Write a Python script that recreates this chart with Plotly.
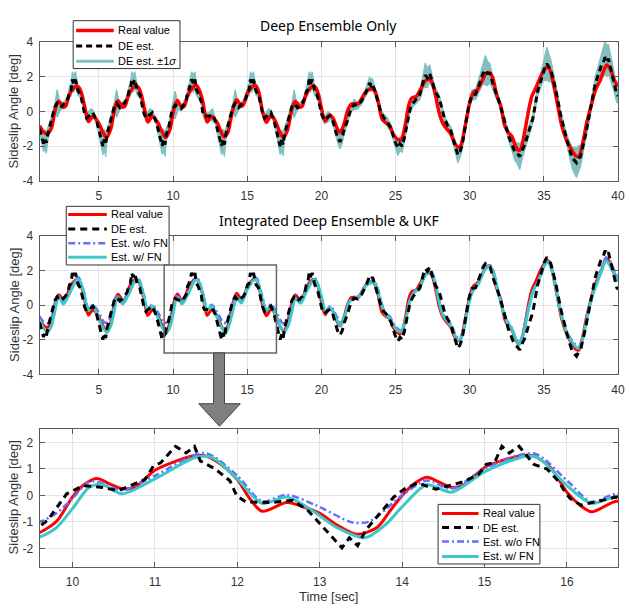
import plotly.graph_objects as go

W, H = 629, 613

# ---------------- data ----------------
# Real sideslip angle [deg] (knots, drawn as a smooth curve)
real_t = [1.0, 1.25, 1.5, 1.8, 2.0, 2.15, 2.3, 2.45, 2.6, 2.75, 3.0, 3.2, 3.45, 3.65, 3.85, 4.0, 4.15, 4.3, 4.6, 4.8, 5.0, 5.25, 5.5,
          5.8, 6.0, 6.15, 6.3, 6.45, 6.6, 6.75, 7.0, 7.2, 7.45, 7.65, 7.85, 8.0, 8.15, 8.3, 8.6, 8.8, 9.0, 9.25, 9.5,
          9.8, 10.0, 10.15, 10.3, 10.45, 10.6, 10.75, 11.0, 11.2, 11.45, 11.6, 11.8, 12.0, 12.15, 12.3, 12.6, 12.8, 13.0, 13.2, 13.45,
          13.7, 13.85, 14.0, 14.15, 14.3, 14.45, 14.6, 14.75, 15.0, 15.2, 15.45, 15.6, 15.8, 16.0, 16.15, 16.3, 16.6, 16.8, 17.0, 17.2, 17.45,
          17.7, 17.95, 18.1, 18.25, 18.4, 18.55, 18.7, 18.95, 19.15, 19.45, 19.6, 19.8, 20.0, 20.25, 20.55, 20.8, 21.0, 21.25,
          21.5, 21.75, 22.0, 22.25, 22.5, 22.75, 23.0, 23.4, 23.6, 23.85, 24.1, 24.4, 24.6, 24.85, 25.2, 25.4,
          25.65, 25.9, 26.1, 26.4, 26.7, 27.0, 27.2, 27.45, 27.7, 27.95, 28.2, 28.45, 28.7, 29.0, 29.25, 29.4,
          29.7, 30.0, 30.25, 30.5, 30.8, 31.1, 31.3, 31.55, 31.8, 32.1, 32.35, 32.6, 32.85, 33.1, 33.3, 33.45,
          33.7, 34.0, 34.2, 34.45, 34.8, 35.15, 35.35, 35.6, 35.9, 36.2, 36.5, 36.8, 37.15, 37.35, 37.6,
          37.9, 38.2, 38.5, 38.8, 39.05, 39.25, 39.5, 39.75, 40.0]
real_val = [-0.82, -1.15, -1.3, -0.95, -0.1, 0.43, 0.6, 0.45, 0.25, 0.3, 0.95, 1.25, 1.45, 1.4, 1.0, 0.45, -0.15, -0.58, -0.27, -0.43, -0.68, -1.15, -1.5,
            -1.0, -0.1, 0.43, 0.62, 0.45, 0.25, 0.3, 0.95, 1.25, 1.48, 1.4, 1.0, 0.45, -0.15, -0.6, -0.27, -0.43, -0.68, -1.15, -1.5,
            -1.0, -0.06, 0.43, 0.64, 0.43, 0.25, 0.3, 0.95, 1.23, 1.48, 1.5, 1.17, 0.6, -0.12, -0.6, -0.27, -0.43, -0.68, -1.1, -1.47,
            -1.2, -0.6, 0.0, 0.45, 0.68, 0.5, 0.3, 0.4, 1.05, 1.3, 1.5, 1.48, 1.05, 0.12, -0.35, -0.62, -0.22, -0.4, -0.75, -1.2, -1.5,
            -1.1, -0.1, 0.4, 0.58, 0.45, 0.25, 0.3, 0.95, 1.25, 1.47, 1.4, 1.0, 0.2, -0.55, -0.2, -0.4, -0.85, -1.2,
            -0.8, 0.0, 0.42, 0.45, 0.45, 0.8, 1.15, 1.32, 1.2, 0.5, -0.45, -0.68, -0.8, -1.3, -1.63, -1.6,
            -0.8, 0.4, 0.78, 0.88, 1.3, 1.75, 1.88, 1.7, 0.9, -0.1, -0.7, -1.0, -1.25, -1.85, -2.05, -1.95,
            -0.8, 0.5, 1.1, 1.25, 1.7, 2.2, 2.25, 1.95, 1.0, 0.3, -0.8, -1.2, -1.45, -2.0, -2.25, -2.15,
            -1.2, 0.2, 0.9, 1.35, 2.05, 2.55, 2.5, 1.8, 0.5, -0.8, -1.6, -2.1, -2.55, -2.6, -1.9,
            -0.6, 0.4, 1.3, 1.8, 2.4, 2.68, 2.4, 1.8, 1.45]

# Deep Ensemble estimate and its standard deviation [deg]
de_t = [1.0, 1.1, 1.27, 1.36, 1.46, 1.56, 1.73, 1.9, 2.03, 2.19, 2.41, 2.75, 2.93, 3.02, 3.12, 3.21, 3.3, 3.42, 3.5, 3.6, 3.76, 3.9, 3.98, 4.04, 4.17, 4.44, 4.6, 4.85, 4.98,
        5.1, 5.27, 5.36, 5.46, 5.56, 5.73, 5.9, 6.03, 6.19, 6.41, 6.75, 6.93, 7.02, 7.12, 7.21, 7.3, 7.42, 7.5, 7.6, 7.76, 7.9, 7.98, 8.04, 8.17, 8.44, 8.6, 8.85, 8.98,
        9.1, 9.27, 9.36, 9.46, 9.55, 9.7, 9.93, 10.13, 10.36, 10.55, 10.75, 10.88, 10.98, 11.07, 11.25, 11.38, 11.48, 11.55, 11.73, 11.91, 11.99, 12.1, 12.4, 12.67, 12.85, 12.98,
        13.09, 13.27, 13.36, 13.46, 13.56, 13.73, 13.9, 14.03, 14.19, 14.41, 14.75, 14.93, 15.02, 15.12, 15.21, 15.3, 15.42, 15.5, 15.6, 15.76, 15.9, 15.98, 16.04, 16.17, 16.44, 16.6, 16.8, 16.95,
        17.05, 17.22, 17.32, 17.42, 17.52, 17.7, 17.87, 18.0, 18.16, 18.38, 18.72, 18.9, 18.98, 19.08, 19.17, 19.26, 19.38, 19.46, 19.56, 19.72, 19.86, 19.95, 20.03, 20.2, 20.45, 20.6, 20.8, 20.95,
        21.1, 21.25, 21.4, 21.55, 21.75, 22.0, 22.2, 22.45, 22.7, 22.95, 23.1, 23.25, 23.35, 23.45, 23.6, 23.8, 24.0, 24.2, 24.45, 24.7, 24.95, 25.15, 25.3, 25.45, 25.6,
        25.8, 26.0, 26.2, 26.45, 26.65, 26.85, 27.0, 27.15, 27.3, 27.45, 27.65, 27.95, 28.15, 28.3, 28.5, 28.75, 28.95, 29.1, 29.2, 29.35, 29.5,
        29.75, 29.95, 30.15, 30.4, 30.7, 30.9, 31.05, 31.2, 31.37, 31.6, 31.9, 32.26, 32.6, 32.85, 33.03, 33.2, 33.37, 33.55, 33.7,
        34.0, 34.25, 34.58, 34.92, 35.05, 35.2, 35.35, 35.47, 35.8, 36.14, 36.58, 36.91, 37.05, 37.2, 37.35, 37.47, 37.8,
        38.13, 38.47, 38.84, 39.0, 39.13, 39.25, 39.35, 39.55, 39.69, 39.91, 40.0]
de_val = [-1.0, -1.38, -1.85, -1.6, -1.8, -1.3, -0.68, -0.06, 0.25, 0.47, 0.23, 0.52, 0.8, 1.17, 1.23, 1.85, 1.6, 1.85, 1.54, 1.17, 0.99, 0.52, 0.12, -0.12, -0.37, -0.19, -0.06, -0.55, -1.0,
          -1.38, -2.0, -1.6, -1.9, -1.3, -0.68, -0.06, 0.25, 0.47, 0.23, 0.52, 0.8, 1.17, 1.23, 1.85, 1.6, 1.85, 1.54, 1.17, 0.99, 0.52, 0.12, -0.12, -0.37, -0.19, -0.06, -0.55, -1.0,
          -1.38, -1.98, -1.6, -1.9, -1.3, -0.93, 0.06, 0.37, 0.3, 0.18, 0.43, 0.6, 1.1, 1.23, 1.85, 1.6, 1.85, 1.3, 1.0, 0.55, 0.0, -0.25, -0.27, -0.19, -0.55, -1.0,
          -1.38, -1.98, -1.6, -1.9, -1.3, -0.68, -0.06, 0.25, 0.47, 0.23, 0.52, 0.8, 1.17, 1.23, 1.85, 1.6, 1.85, 1.54, 1.17, 0.99, 0.52, 0.12, -0.12, -0.37, -0.19, -0.06, -0.5, -1.0,
          -1.4, -2.0, -1.65, -1.9, -1.3, -0.65, -0.05, 0.25, 0.45, 0.22, 0.5, 0.8, 1.15, 1.25, 1.85, 1.6, 1.85, 1.5, 1.15, 0.95, 0.5, 0.1, -0.2, -0.5, -0.3, -0.25, -0.6, -1.1,
          -1.5, -1.75, -1.5, -1.0, -0.55, 0.15, 0.4, 0.35, 0.6, 1.0, 1.3, 1.65, 1.5, 1.6, 1.2, 0.6, 0.0, -0.35, -0.6, -1.0, -1.7, -2.1, -1.85, -2.0, -1.5,
          -0.6, 0.2, 0.5, 0.8, 1.0, 1.7, 2.1, 1.95, 2.2, 1.8, 1.2, 0.75, 0.0, -0.4, -0.8, -1.15, -1.8, -2.3, -2.5, -2.3, -1.9,
          -0.6, 0.4, 0.95, 1.0, 1.7, 2.2, 2.38, 2.2, 2.2, 1.5, 0.79, -0.24, -1.37, -1.9, -2.31, -2.4, -2.59, -2.2, -1.94,
          -1.1, -0.43, 1.17, 2.2, 2.5, 2.76, 2.5, 2.38, 1.26, -0.24, -1.74, -2.69, -2.8, -2.95, -2.7, -2.59, -1.37,
          0.04, 1.63, 2.57, 2.8, 3.14, 2.9, 3.04, 2.4, 1.82, 1.0, 0.9]
de_sd = [0.2, 0.3, 0.45, 0.55, 0.6, 0.35, 0.2, 0.15, 0.2, 0.8, 0.15, 0.15, 0.2, 0.3, 0.35, 0.45, 0.5, 0.45, 0.35, 0.25, 0.15, 0.15, 0.12, 0.12, 0.2, 0.35, 0.15, 0.15, 0.2,
         0.3, 0.5, 0.6, 0.7, 0.35, 0.2, 0.15, 0.2, 0.8, 0.15, 0.15, 0.2, 0.3, 0.35, 0.45, 0.5, 0.45, 0.35, 0.25, 0.15, 0.15, 0.12, 0.12, 0.2, 0.35, 0.15, 0.15, 0.2,
         0.3, 0.5, 0.6, 0.7, 0.35, 0.2, 0.15, 0.8, 0.15, 0.15, 0.2, 0.2, 0.3, 0.35, 0.45, 0.5, 0.45, 0.35, 0.25, 0.15, 0.12, 0.15, 0.2, 0.35, 0.15, 0.2,
         0.3, 0.5, 0.6, 0.7, 0.35, 0.2, 0.15, 0.2, 0.8, 0.15, 0.15, 0.2, 0.3, 0.35, 0.45, 0.5, 0.45, 0.35, 0.25, 0.15, 0.15, 0.12, 0.12, 0.2, 0.35, 0.15, 0.15, 0.2,
         0.3, 0.5, 0.6, 0.65, 0.35, 0.2, 0.15, 0.2, 0.8, 0.15, 0.15, 0.2, 0.3, 0.35, 0.45, 0.5, 0.45, 0.35, 0.25, 0.15, 0.15, 0.12, 0.12, 0.2, 0.3, 0.15, 0.2, 0.25,
         0.3, 0.4, 0.35, 0.25, 0.2, 0.15, 0.3, 0.2, 0.2, 0.2, 0.25, 0.35, 0.35, 0.3, 0.25, 0.2, 0.15, 0.2, 0.25, 0.2, 0.25, 0.45, 0.4, 0.35, 0.25,
         0.25, 0.2, 0.2, 0.25, 0.3, 0.4, 0.7, 0.55, 0.5, 0.35, 0.25, 0.2, 0.2, 0.2, 0.2, 0.25, 0.3, 0.4, 0.45, 0.35, 0.3,
         0.25, 0.25, 0.3, 0.3, 0.45, 0.6, 0.85, 0.7, 0.55, 0.35, 0.25, 0.2, 0.25, 0.35, 0.5, 0.6, 0.75, 0.5, 0.35,
         0.3, 0.25, 0.3, 0.5, 0.7, 0.95, 0.8, 0.6, 0.35, 0.25, 0.35, 0.6, 0.75, 0.85, 0.75, 0.6, 0.35,
         0.3, 0.4, 0.6, 0.8, 0.95, 0.9, 0.85, 0.7, 0.55, 0.45, 0.4]

# UKF estimate without feedback network [deg]
nofn_t = [1.0, 1.25, 1.55, 1.8, 2.0, 2.2, 2.35, 2.6, 3.0, 3.6, 4.0, 4.3, 4.6, 4.95, 5.4, 5.6,
          5.8, 6.0, 6.2, 6.35, 6.6, 7.0, 7.6, 8.0, 8.3, 8.6, 8.95, 9.4, 9.6,
          9.8, 10.0, 10.2, 10.35, 10.6, 11.0, 11.6, 12.0, 12.3, 12.6, 12.95, 13.4, 13.6,
          14.0, 14.3, 14.6, 15.0, 15.6, 16.0, 16.3, 16.6, 16.95, 17.4, 17.6,
          18.0, 18.3, 18.6, 19.0, 19.55, 20.0, 20.3, 20.6, 21.0, 21.3,
          21.6, 21.9, 22.3, 22.6, 23.0, 23.45, 23.7, 24.0, 24.3, 24.6, 25.0, 25.35,
          25.7, 26.0, 26.3, 26.6, 27.0, 27.35, 27.6, 27.9, 28.2, 28.5, 28.8, 29.1, 29.35,
          29.6, 30.0, 30.3, 30.6, 31.0, 31.35, 31.6, 31.9, 32.2, 32.5, 32.8, 33.1, 33.35,
          33.6, 34.0, 34.3, 34.6, 35.0, 35.25, 35.5, 35.8, 36.1, 36.5, 36.9, 37.35,
          37.6, 38.0, 38.3, 38.6, 38.9, 39.2, 39.5, 39.8, 40.0]
nofn_val = [-0.66, -0.95, -1.05, -0.7, -0.12, 0.52, 0.47, 0.19, 0.74, 1.6, 0.74, -0.22, 0.02, -0.37, -1.02, -0.99,
            -0.68, -0.12, 0.52, 0.47, 0.19, 0.8, 1.6, 0.7, -0.22, 0.02, -0.37, -1.02, -1.0,
            -0.68, -0.12, 0.52, 0.47, 0.19, 0.74, 1.6, 0.74, -0.22, 0.02, -0.37, -1.02, -0.99,
            0.0, 0.56, 0.25, 1.01, 1.58, 0.56, -0.25, 0.06, -0.4, -1.05, -1.0,
            0.0, 0.5, 0.25, 0.95, 1.55, 0.5, -0.35, -0.05, -0.6, -1.0,
            -0.5, 0.25, 0.45, 0.6, 1.15, 1.38, 1.2, 0.3, -0.45, -0.65, -1.25, -1.45,
            -0.7, 0.4, 0.8, 1.0, 1.75, 1.95, 1.6, 0.4, -0.5, -0.85, -1.2, -1.8, -1.9,
            -1.3, 0.35, 1.0, 1.3, 2.05, 2.3, 1.95, 0.85, -0.15, -0.9, -1.25, -1.9, -2.15,
            -1.6, 0.0, 0.9, 1.35, 2.3, 2.6, 2.25, 1.1, -0.2, -1.4, -2.05, -2.4,
            -1.9, -0.3, 0.7, 1.4, 2.15, 2.75, 2.45, 1.9, 1.55]

# UKF estimate with feedback network [deg]
fn_t = [1.0, 1.25, 1.55, 1.8, 2.0, 2.2, 2.35, 2.6, 3.0, 3.5, 3.7, 4.0, 4.3, 4.6, 4.9, 5.2, 5.55,
        5.8, 6.0, 6.2, 6.35, 6.6, 7.0, 7.5, 7.7, 8.0, 8.3, 8.6, 8.9, 9.2, 9.55,
        9.8, 10.0, 10.2, 10.35, 10.6, 11.0, 11.5, 11.7, 12.0, 12.3, 12.6, 12.9, 13.2, 13.55,
        13.8, 14.0, 14.3, 14.6, 15.0, 15.5, 15.65, 16.0, 16.3, 16.6, 16.9, 17.2, 17.5,
        17.8, 18.0, 18.25, 18.6, 19.0, 19.5, 19.65, 20.0, 20.3, 20.6, 20.9, 21.3,
        21.6, 21.9, 22.3, 22.6, 23.0, 23.45, 23.65, 24.0, 24.3, 24.6, 25.0, 25.35,
        25.7, 26.0, 26.3, 26.6, 27.0, 27.35, 27.6, 27.9, 28.2, 28.5, 28.8, 29.1, 29.35,
        29.6, 30.0, 30.3, 30.6, 31.0, 31.35, 31.6, 31.9, 32.2, 32.5, 32.8, 33.1, 33.35,
        33.6, 34.0, 34.3, 34.6, 35.0, 35.25, 35.5, 35.8, 36.1, 36.5, 36.9, 37.35,
        37.6, 38.0, 38.3, 38.6, 38.9, 39.2, 39.5, 39.8, 40.0]
fn_val = [-0.85, -1.3, -1.55, -1.2, -0.5, 0.3, 0.42, 0.06, 0.62, 1.44, 1.42, 0.62, -0.3, -0.06, -0.55, -1.2, -1.58,
          -1.2, -0.5, 0.3, 0.42, 0.06, 0.62, 1.44, 1.42, 0.62, -0.3, -0.06, -0.55, -1.2, -1.6,
          -1.23, -0.5, 0.3, 0.42, 0.06, 0.62, 1.44, 1.42, 0.62, -0.3, -0.06, -0.55, -1.2, -1.6,
          -1.1, -0.43, 0.4, 0.12, 0.89, 1.48, 1.42, 0.37, -0.3, -0.06, -0.55, -1.2, -1.55,
          -1.1, -0.4, 0.35, 0.1, 0.8, 1.45, 1.4, 0.5, -0.45, -0.15, -0.6, -1.2,
          -0.6, 0.2, 0.4, 0.55, 1.1, 1.3, 1.2, 0.2, -0.55, -0.75, -1.35, -1.55,
          -0.8, 0.35, 0.75, 0.95, 1.7, 1.9, 1.5, 0.3, -0.6, -0.95, -1.3, -1.9, -2.03,
          -1.4, 0.3, 0.95, 1.25, 2.0, 2.23, 1.9, 0.8, -0.2, -0.95, -1.3, -1.95, -2.27,
          -1.7, -0.1, 0.85, 1.3, 2.2, 2.48, 2.15, 1.0, -0.3, -1.5, -2.15, -2.5,
          -2.0, -0.4, 0.6, 1.3, 2.0, 2.55, 2.2, 1.7, 1.35]

y_ticks = [-4, -2, 0, 2, 4]
y_tick_text = ["-4", "-2", "0", "2", "4"]
x_ticks = [5, 10, 15, 20, 25, 30, 35, 40]
zoom_x_ticks = [10, 11, 12, 13, 14, 15, 16]
zoom_y_ticks = [-2, -1, 0, 1, 2]
zoom_y_tick_text = ["-2", "-1", "0", "1", "2"]

# ---------------- styling ----------------
RED = "#ff0000"
BLACK = "#000000"
TEAL = "rgb(128,192,192)"
BLUE = "rgb(100,110,255)"
CYAN = "rgb(60,200,200)"
AX = "#5a5a5a"
GRID = "#e4e4e4"
TXT = "#333333"
FONT = "Liberation Sans, Arial, sans-serif"


def px(x):
    return x / W


def py(y):
    return 1 - y / H


fig = go.Figure()

# ---- top panel: Deep Ensemble only ----
band_lo = [v - s for v, s in zip(de_val, de_sd)]
band_hi = [v + s for v, s in zip(de_val, de_sd)]
fig.add_trace(go.Scatter(x=de_t, y=band_lo, mode="lines", line=dict(color=TEAL, width=1.2),
                         xaxis="x", yaxis="y", showlegend=False, hoverinfo="skip"))
fig.add_trace(go.Scatter(x=de_t, y=band_hi, mode="lines", line=dict(color=TEAL, width=1.2),
                         fill="tonexty", fillcolor=TEAL, xaxis="x", yaxis="y", showlegend=False))
fig.add_trace(go.Scatter(x=real_t, y=real_val, mode="lines",
                         line=dict(color=RED, width=3.5, shape="spline", smoothing=0.8),
                         xaxis="x", yaxis="y", showlegend=False))
fig.add_trace(go.Scatter(x=de_t, y=de_val, mode="lines",
                         line=dict(color=BLACK, width=3, dash="6px,4px"),
                         xaxis="x", yaxis="y", showlegend=False))

# ---- middle and bottom panels: integrated DE & UKF ----
for xa, ya in (("x2", "y2"), ("x3", "y3")):
    fig.add_trace(go.Scatter(x=real_t, y=real_val, mode="lines",
                             line=dict(color=RED, width=3, shape="spline", smoothing=0.8),
                             xaxis=xa, yaxis=ya, showlegend=False))
    fig.add_trace(go.Scatter(x=nofn_t, y=nofn_val, mode="lines",
                             line=dict(color=BLUE, width=2.5, shape="spline", smoothing=0.8,
                                       dash="7px,3px,2px,3px"),
                             xaxis=xa, yaxis=ya, showlegend=False))
    fig.add_trace(go.Scatter(x=fn_t, y=fn_val, mode="lines",
                             line=dict(color=CYAN, width=3, shape="spline", smoothing=0.8),
                             xaxis=xa, yaxis=ya, showlegend=False))
    fig.add_trace(go.Scatter(x=de_t, y=de_val, mode="lines",
                             line=dict(color=BLACK, width=3, dash="7px,5px"),
                             xaxis=xa, yaxis=ya, showlegend=False))


def axis(**kw):
    d = dict(showline=True, linecolor=AX, linewidth=1, mirror="ticks", ticks="inside",
             ticklen=5, tickcolor=AX, showgrid=True, gridcolor=GRID, gridwidth=1,
             zeroline=False, tickfont=dict(family=FONT, size=12, color=TXT), fixedrange=True,
             ticklabeloverflow="allow")
    d.update(kw)
    return d


XD = [px(40), px(625)]
layout = dict(
    width=W, height=H, margin=dict(l=0, r=0, t=0, b=0),
    paper_bgcolor="white", plot_bgcolor="white", showlegend=False,
    xaxis=axis(domain=XD, range=[1, 40], tickvals=x_ticks, anchor="y", ticklabelstandoff=4),
    yaxis=axis(domain=[py(178), py(36)], range=[-4, 4], tickvals=y_ticks, ticktext=y_tick_text,
               anchor="x", ticklabelstandoff=3),
    xaxis2=axis(domain=XD, range=[1, 40], tickvals=x_ticks, anchor="y2", ticklabelstandoff=4),
    yaxis2=axis(domain=[py(376), py(234)], range=[-4, 4], tickvals=y_ticks, ticktext=y_tick_text,
                anchor="x2", ticklabelstandoff=3),
    xaxis3=axis(domain=XD, range=[9.6, 16.62], tickvals=zoom_x_ticks, anchor="y3", ticklabelstandoff=4),
    yaxis3=axis(domain=[py(573), py(432)], range=[-2.7, 2.5], tickvals=zoom_y_ticks,
                ticktext=zoom_y_tick_text, anchor="x3", ticklabelstandoff=3),
)
fig.update_layout(**layout)

shapes = []
annotations = []

# titles and axis labels
annotations.append(dict(text="Deep Ensemble Only", x=px(332.5), y=py(19), xref="paper", yref="paper",
                        showarrow=False, xanchor="center", yanchor="middle",
                        font=dict(family="Noto Sans, sans-serif", size=14, color="black")))
annotations.append(dict(text="Integrated Deep Ensemble &amp; UKF", x=px(332.5), y=py(219), xref="paper",
                        yref="paper", showarrow=False, xanchor="center", yanchor="middle",
                        font=dict(family="Noto Sans, sans-serif", size=14, color="black")))
for yc in (107, 305, 502):
    annotations.append(dict(text="Sideslip Angle [deg]", x=px(14), y=py(yc), xref="paper", yref="paper",
                            showarrow=False, textangle=-90, xanchor="center", yanchor="middle",
                            font=dict(family=FONT, size=13, color=TXT)))
annotations.append(dict(text="Time [sec]", x=px(332), y=py(603), xref="paper", yref="paper",
                        showarrow=False, xanchor="center", yanchor="middle",
                        font=dict(family=FONT, size=13, color=TXT)))


def legend(box, rows, lx0, lx1, tx):
    x0, y0, x1, y1 = box
    shapes.append(dict(type="rect", xref="paper", yref="paper", x0=px(x0), x1=px(x1), y0=py(y1), y1=py(y0),
                       line=dict(color="#333333", width=1), fillcolor="white", layer="above"))
    for yr, label, color, width, dash in rows:
        shapes.append(dict(type="line", xref="paper", yref="paper", x0=px(lx0), x1=px(lx1), y0=py(yr), y1=py(yr),
                           line=dict(color=color, width=width, dash=dash), layer="above"))
        annotations.append(dict(text=label, x=px(tx), y=py(yr), xref="paper", yref="paper", showarrow=False,
                                xanchor="left", yanchor="middle",
                                font=dict(family=FONT, size=11, color="black")))


legend((74, 14, 182, 63),
       [(24, "Real value", RED, 3.5, "solid"),
        (40, "DE est.", BLACK, 3, "6px,4px"),
        (55.5, "DE est. ±1<i>σ</i>", TEAL, 3, "solid")],
       77, 115, 117)
legend((67, 204, 171, 264),
       [(212.3, "Real value", RED, 3, "solid"),
        (227.3, "DE est.", BLACK, 3, "7px,5px"),
        (241.7, "Est. w/o FN", BLUE, 2.5, "7px,3px,2px,3px"),
        (256, "Est. w/ FN", CYAN, 3, "solid")],
       69, 108, 110)
legend((443, 509, 546, 570),
       [(518.3, "Real value", RED, 3, "solid"),
        (532.7, "DE est.", BLACK, 3, "7px,5px"),
        (547, "Est. w/o FN", BLUE, 2.5, "7px,3px,2px,3px"),
        (562.3, "Est. w/ FN", CYAN, 3, "solid")],
       447, 484, 486)

# zoom window on the middle panel
shapes.append(dict(type="rect", xref="x2", yref="y2", x0=9.4, x1=16.97, y0=-2.76, y1=2.31,
                   line=dict(color="#666666", width=1.5), layer="above"))

# arrow pointing to the zoomed panel
pts = [(216, 354), (227, 354), (227, 406), (243, 406), (222, 429), (201, 406), (216, 406)]
path = "M " + " L ".join(f"{px(a):.5f},{py(b):.5f}" for a, b in pts) + " Z"
shapes.append(dict(type="path", xref="paper", yref="paper", path=path,
                   fillcolor="#808080", line=dict(color="#404040", width=1), layer="above"))

fig.update_layout(shapes=shapes, annotations=annotations)
fig.write_html("out.html")
